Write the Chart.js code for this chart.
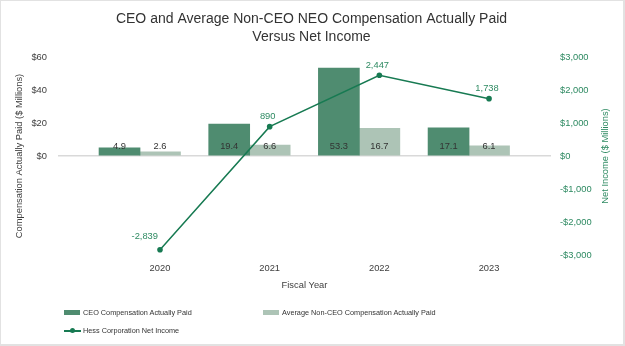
<!DOCTYPE html>
<html>
<head>
<meta charset="utf-8">
<script src="https://cdn.jsdelivr.net/npm/chart.js@4.4.1/dist/chart.umd.min.js"></script>
<style>
  html, body { margin: 0; padding: 0; background: #fff; }
  #wrap { position: relative; width: 625px; height: 346px; overflow: hidden; font-family: "Liberation Sans", Arial, sans-serif; }
  #c { position: absolute; left: 0; top: 0; }
  #frame { position: absolute; left: 0; top: 0; width: 625px; height: 346px; box-sizing: border-box;
           border-top: 1px solid #e2e2e2; border-left: 1px solid #e2e2e2; border-right: 2px solid #e2e2e2; border-bottom: 2px solid #e2e2e2; pointer-events: none; }
  .lg { position: absolute; display: flex; align-items: center; font-size: 7.3px; color: #333; white-space: nowrap; }
  .sw { width: 16px; height: 5px; margin-right: 3px; }
  .ln { position: relative; width: 17px; height: 7px; margin-right: 2px; }
  .ln .bar { position: absolute; left: 0; right: 0; top: 3px; height: 1.5px; }
  .ln .dot { position: absolute; left: 5.5px; top: 1px; width: 5px; height: 5px; border-radius: 50%; }
</style>
</head>
<body>
<div id="wrap">
  <canvas id="c" width="625" height="346"></canvas>
  <div id="legend"></div>
  <div id="frame"></div>
</div>
<script>
// ---- data ----
const years = [2020, 2021, 2022, 2023];
const ceoPay = [4.9, 19.4, 53.3, 17.1];
const neoPay = [2.6, 6.6, 16.7, 6.1];
const netIncome = [-2839, 890, 2447, 1738];
const seriesNames = ['CEO Compensation Actually Paid', 'Average Non-CEO Compensation Actually Paid', 'Hess Corporation Net Income'];
const titleLines = ['CEO and Average Non-CEO NEO Compensation Actually Paid', 'Versus Net Income'];

const FONT = '"Liberation Sans", Arial, sans-serif';
const GREEN_DARK = '#4f8c70';
const GREEN_LIGHT = '#adc4b6';
const LINE_GREEN = '#177a52';
const TEXT_GREEN = '#2e8a62';

const labelsPlugin = {
  id: 'valueLabels',
  afterDatasetsDraw(chart) {
    const ctx = chart.ctx;
    ctx.save();
    ctx.font = '9.33px ' + FONT;
    ctx.textBaseline = 'middle';
    chart.data.datasets.forEach((ds, di) => {
      const meta = chart.getDatasetMeta(di);
      meta.data.forEach((el, i) => {
        const v = ds.data[i].y;
        if (ds.type === 'line') {
          ctx.fillStyle = TEXT_GREEN;
          const txt = v.toLocaleString('en-US');
          if (v < 0) { ctx.textAlign = 'right'; ctx.fillText(txt, el.x - 2, el.y - 13); }
          else { ctx.textAlign = 'center'; ctx.fillText(txt, el.x - 2, el.y - 10); }
        } else {
          ctx.fillStyle = '#333';
          ctx.textAlign = 'center';
          ctx.fillText(v.toFixed(1), el.x, el.base - 9);
        }
      });
    });
    ctx.restore();
  }
};

const rightTitlePlugin = {
  id: 'rightTitle',
  afterDraw(chart) {
    const s = chart.scales.y1;
    const ctx = chart.ctx;
    ctx.save();
    ctx.font = '9.33px ' + FONT;
    ctx.fillStyle = TEXT_GREEN;
    ctx.textAlign = 'center';
    ctx.textBaseline = 'middle';
    ctx.translate(s.right - 4 - 5.6, (chart.chartArea.top + chart.chartArea.bottom) / 2);
    ctx.rotate(-Math.PI / 2);
    ctx.fillText('Net Income ($ Millions)', 0, 0);
    ctx.restore();
  }
};

const yearTicks = s => { s.ticks = years.map(v => ({ value: v })); };

const chart = new Chart(document.getElementById('c'), {
  type: 'bar',
  data: {
    datasets: [
      { label: seriesNames[0], type: 'bar', xAxisID: 'xb', yAxisID: 'y', order: 2, grouped: false,
        data: years.map((yr, i) => ({ x: yr, y: ceoPay[i] })), backgroundColor: GREEN_DARK,
        barThickness: 41 },
      { label: seriesNames[1], type: 'bar', xAxisID: 'x', yAxisID: 'y', order: 2, grouped: false,
        data: years.map((yr, i) => ({ x: yr, y: neoPay[i] })), backgroundColor: GREEN_LIGHT,
        barThickness: 41 },
      { label: seriesNames[2], type: 'line', xAxisID: 'x', yAxisID: 'y1', order: 1,
        data: years.map((yr, i) => ({ x: yr, y: netIncome[i] })), borderColor: LINE_GREEN, backgroundColor: LINE_GREEN,
        borderWidth: 1.5, pointRadius: 2.8, pointBackgroundColor: LINE_GREEN, pointBorderWidth: 0, tension: 0 }
    ]
  },
  options: {
    responsive: false,
    animation: false,
    layout: { padding: { left: 8, right: 10, top: 0, bottom: 55.4 } },
    font: { family: FONT },
    plugins: {
      legend: { display: false },
      tooltip: { enabled: false },
      title: { display: true, text: titleLines, color: '#333', font: { family: FONT, size: 14, weight: 'normal', lineHeight: 1.3 },
               padding: { top: 10, bottom: 10.6 } }
    },
    scales: {
      x: {
        type: 'linear', position: 'bottom', min: 2019.070, max: 2023.565, offset: false,
        afterBuildTicks: yearTicks,
        afterFit: s => { s.height = 35.6; },
        ticks: { callback: v => String(v), color: '#404040', font: { family: FONT, size: 9.33 }, padding: 7.4, maxRotation: 0 },
        grid: { display: false, drawTicks: false, offset: false },
        border: { display: false },
        title: { display: true, text: 'Fiscal Year', color: '#404040', font: { family: FONT, size: 9.33 }, padding: { top: 0, bottom: 0 } }
      },
      xb: {
        type: 'linear', position: 'bottom', display: true, min: 2019.439, max: 2023.934, offset: false,
        afterBuildTicks: yearTicks,
        afterFit: s => { s.height = 0; },
        ticks: { display: false },
        grid: { display: false, drawTicks: false, offset: false },
        border: { display: false }
      },
      y: {
        type: 'linear', position: 'left', min: -60, max: 60,
        afterFit: s => { s.width = 50; },
        ticks: { stepSize: 20, callback: v => (v >= 0 ? '$' + v : null), color: '#404040', font: { family: FONT, size: 9.33 }, padding: 11 },
        grid: { drawTicks: false, color: c => (c.tick && c.tick.value === 0 ? '#d9d9d9' : 'rgba(0,0,0,0)'), lineWidth: 1.5 },
        border: { display: false },
        title: { display: true, text: 'Compensation Actually Paid ($ Millions)', color: '#404040', font: { family: FONT, size: 9.33 }, padding: { top: 6, bottom: 0 } }
      },
      y1: {
        type: 'linear', position: 'right', min: -3000, max: 3000,
        afterFit: s => { s.width = 64; },
        ticks: { stepSize: 1000, callback: v => (v < 0 ? '-$' : '$') + Math.abs(v).toLocaleString('en-US'), color: TEXT_GREEN, font: { family: FONT, size: 9.33 }, padding: 9 },
        grid: { display: false, drawTicks: false },
        border: { display: false }
      }
    }
  },
  plugins: [labelsPlugin, rightTitlePlugin]
});

// ---- HTML legend built from the chart's datasets ----
(function buildLegend() {
  const host = document.getElementById('legend');
  const slots = [{ left: 64, top: 312.7 }, { left: 263, top: 312.7 }, { left: 64, top: 330.7 }];
  chart.data.datasets.forEach((ds, i) => {
    const item = document.createElement('div');
    item.className = 'lg';
    item.style.left = slots[i].left + 'px';
    item.style.top = (slots[i].top - 5) + 'px';
    item.style.height = '10px';
    let sw;
    if (ds.type === 'line') {
      sw = document.createElement('span');
      sw.className = 'ln';
      const b = document.createElement('span'); b.className = 'bar'; b.style.background = ds.borderColor;
      const d = document.createElement('span'); d.className = 'dot'; d.style.background = ds.borderColor;
      sw.appendChild(b); sw.appendChild(d);
    } else {
      sw = document.createElement('span');
      sw.className = 'sw';
      sw.style.background = ds.backgroundColor;
    }
    const t = document.createElement('span');
    t.textContent = ds.label;
    item.appendChild(sw); item.appendChild(t);
    host.appendChild(item);
  });
})();
</script>
</body>
</html>
